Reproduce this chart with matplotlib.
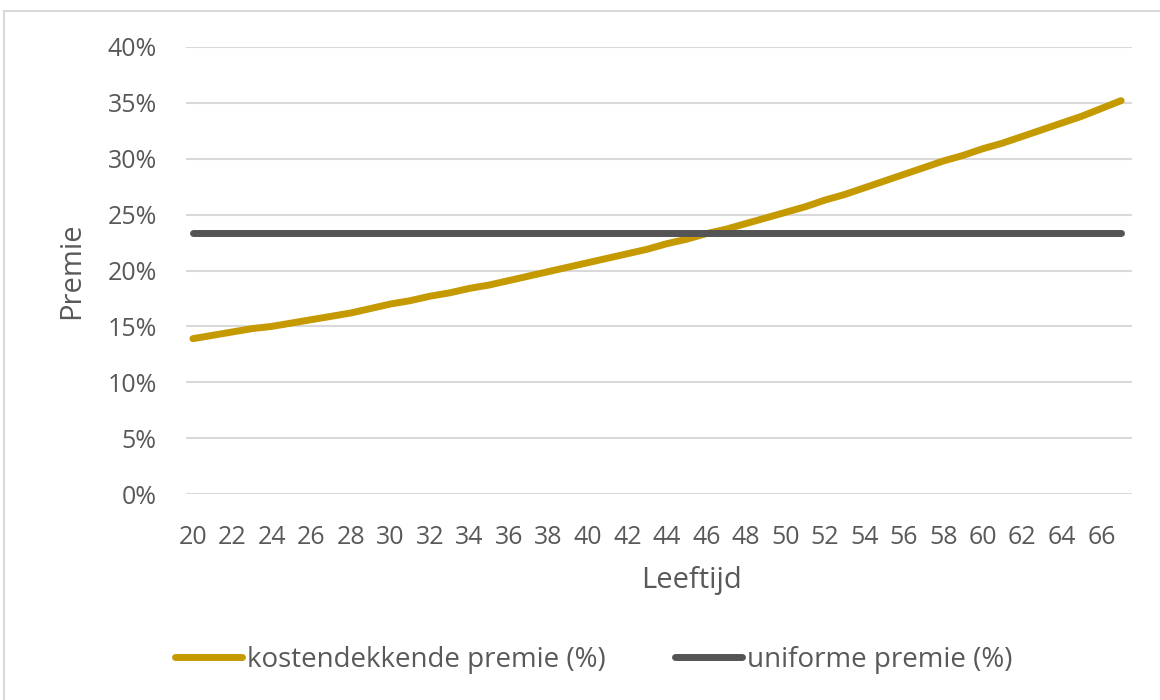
import matplotlib
matplotlib.use('Agg')
import matplotlib.pyplot as plt
from matplotlib.patches import Rectangle
from matplotlib.ticker import FuncFormatter

plt.rcParams['font.family'] = ['Open Sans', 'DejaVu Sans']

# data
ages = list(range(20, 68))
kostendekkend = [13.9, 14.2, 14.5, 14.8, 15.0, 15.3, 15.6, 15.9, 16.2, 16.6,
                 17.0, 17.3, 17.7, 18.0, 18.4, 18.7, 19.1, 19.5, 19.9, 20.3,
                 20.7, 21.1, 21.5, 21.9, 22.4, 22.8, 23.3, 23.7, 24.2, 24.7,
                 25.2, 25.7, 26.3, 26.8, 27.4, 28.0, 28.6, 29.2, 29.8, 30.3,
                 30.9, 31.4, 32.0, 32.6, 33.2, 33.8, 34.5, 35.2]
uniform = [23.35] * len(ages)
yticks = [0, 5, 10, 15, 20, 25, 30, 35, 40]
xticks = list(range(20, 67, 2))

gold = '#C49A00'
dark = '#545454'
txt = '#595959'

fig = plt.figure(figsize=(11.6, 7), dpi=100)
ax = fig.add_axes([186/1160, 1 - 494/700, (1132 - 186)/1160, (494 - 47)/700])

# chart border
fig.patches.append(Rectangle((4/1160, -0.05), 1.2, 1 - 11/700 + 0.05, transform=fig.transFigure,
                             fill=False, edgecolor='#d9d9d9', linewidth=1.5))

ax.plot(ages, kostendekkend, color=gold, lw=5, solid_capstyle='round', label='kostendekkende premie (%)', zorder=3)
ax.plot(ages, uniform, color=dark, lw=5, solid_capstyle='round', label='uniforme premie (%)', zorder=3)

ax.set_ylim(0, 40)
ax.set_xlim(19.65, 67.55)
ax.set_yticks(yticks)
ax.set_xticks(xticks)
ax.yaxis.set_major_formatter(FuncFormatter(lambda v, p: f'{v:.0f}%'))
ax.grid(axis='y', color='#d9d9d9', lw=1.5)
ax.set_axisbelow(True)
for s in ax.spines.values():
    s.set_visible(False)
ax.tick_params(length=0, labelsize=18, colors=txt)
ax.tick_params(axis='y', pad=21)
ax.tick_params(axis='x', pad=22)

ax.set_xlabel('Leeftijd', fontsize=21, color=txt)
ax.xaxis.set_label_coords(0.534, -0.161)
ax.set_ylabel('Premie', fontsize=21, color=txt, labelpad=15)

fig.legend(loc='center', bbox_to_anchor=(0.512, 1 - 660/700), ncol=2, frameon=False,
           fontsize=20, labelcolor=txt, handlelength=2.4, handletextpad=0.2, columnspacing=2.5)

fig.savefig('out.png', dpi=100)
